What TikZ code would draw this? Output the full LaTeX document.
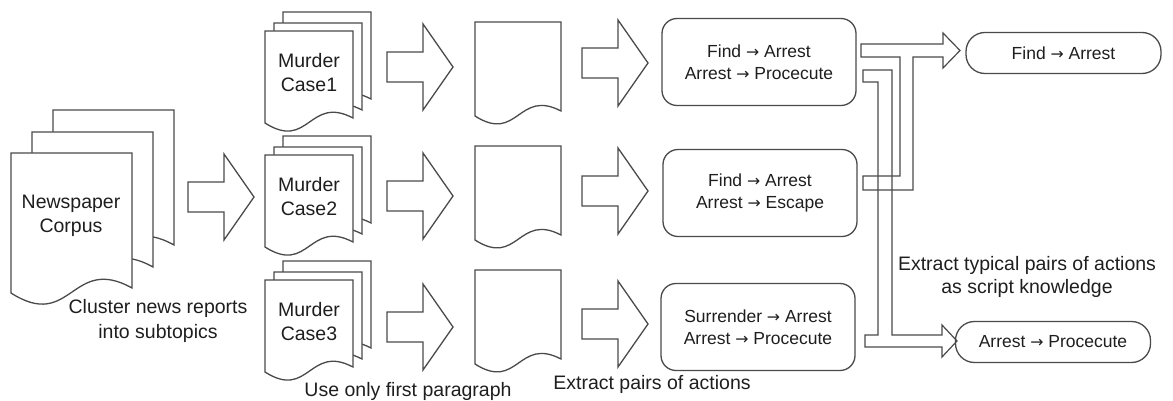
\documentclass[tikz,border=0pt]{standalone}
\usepackage{fontspec}
\setmainfont{Liberation Sans}
\newfontfamily\arrfont[Scale=0.9]{DejaVu Sans}
\newcommand\ra{{\arrfont →}}
\definecolor{linec}{HTML}{4A4A4A}
\definecolor{txtc}{HTML}{1E1E1E}
\tikzset{
  ln/.style={draw=linec, line width=1.3pt, fill=white, line join=miter},
  ol/.style={draw=linec, line width=1.2pt, line join=miter},
  lbl/.style={font=\fontsize{19.5}{25}\selectfont, text=txtc, align=center, inner sep=0pt},
  doct/.style={font=\fontsize{19.5}{24}\selectfont, text=txtc, align=center, inner sep=0pt},
  actbox/.style={draw=linec, line width=1.3pt, rounded corners=15pt, minimum width=194pt,
     minimum height=87pt, align=center, text=txtc, font=\fontsize{17.5}{22}\selectfont, inner sep=0pt},
  resbox/.style={draw=linec, line width=1.3pt, rounded corners=19pt, minimum width=195pt,
     minimum height=41pt, align=center, text=txtc, font=\fontsize{17.5}{22}\selectfont, inner sep=0pt},
}
% document page: x0, y0 (top), width, height (left bottom)
\newcommand\docpage[4]{%
  \draw[ln] (#1,{#2+#4}) -- (#1,#2) -- ({#1+#3},#2) -- ({#1+#3},{#2+#4-5})
    .. controls ({#1+0.5*#3},{#2+#4-0.32*#3}) and ({#1+0.5*#3},{#2+#4+0.32*#3}) .. (#1,{#2+#4}) -- cycle;}
% fat arrow: x start, y centre
\newcommand\fatarrow[2]{%
  \draw[ln] (#1,{#2-15}) -- ({#1+36},{#2-15}) -- ({#1+36},{#2-43}) -- ({#1+66},#2)
    -- ({#1+36},{#2+43}) -- ({#1+36},{#2+15}) -- (#1,{#2+15}) -- cycle;}
\begin{document}
\begin{tikzpicture}[x=1pt,y=-1pt]
\useasboundingbox (0,0) rectangle (1173,401);
% newspaper corpus
\docpage{53}{110}{121}{140}
\docpage{32}{132}{121}{140}
\docpage{11}{153}{121}{140}
\node[doct] (np) at (71,216) {Newspaper\\Corpus};
\node[lbl] (cl) at (158,321) {Cluster news reports\\into subtopics};
\fatarrow{188}{197}
% murder cases
\foreach \yy/\n in {31/1,155/2,280/3}{
  \docpage{283}{\yy-19}{88}{92}
  \docpage{274}{\yy-8}{88}{92}
  \docpage{265}{\yy}{88}{92}
  \node[doct] (mc\n) at (309,{\yy+42}) {Murder\\Case\n};
}
\fatarrow{387}{67}
\fatarrow{387}{196}
\fatarrow{387}{327}
% single first-paragraph pages
\docpage{475}{22}{86}{94}
\docpage{475}{146}{86}{94}
\docpage{475}{270}{86}{94}
\node[lbl] (fp) at (408,391) {Use only first paragraph};
\fatarrow{582}{63}
\fatarrow{582}{191}
\fatarrow{582}{324}
\node[lbl] (ep) at (652,384) {Extract pairs of actions};
% action boxes
\node[actbox] (b1) at (759,62) {Find \ra{} Arrest\\Arrest \ra{} Procecute};
\node[actbox] (b2) at (760,193) {Find \ra{} Arrest\\Arrest \ra{} Escape};
\node[actbox] (b3) at (758,327) {Surrender \ra{} Arrest\\Arrest \ra{} Procecute};
% result boxes
\node[resbox] (r1) at (1063.5,53) {Find \ra{} Arrest};
\node[resbox] (r2) at (1053,342) {Arrest \ra{} Procecute};
\node[lbl, font=\fontsize{19.5}{23}\selectfont] (tl) at (1027,277) {Extract typical pairs of actions\\as script knowledge};
% merging fat arrows
\draw[ol] (861,44) -- (943,44) -- (943,33) -- (960,50.5) -- (943,68) -- (943,57) -- (913,57)
  -- (913,190) -- (863,190) -- (863,176) -- (900,176) -- (900,57) -- (861,57) -- cycle;
\draw[ol] (863,70) -- (892,70) -- (892,335) -- (942,335) -- (942,325) -- (957,341) -- (942,357)
  -- (942,347) -- (865,347) -- (865,335) -- (878,335) -- (878,82) -- (863,82) -- cycle;
\end{tikzpicture}
\end{document}
